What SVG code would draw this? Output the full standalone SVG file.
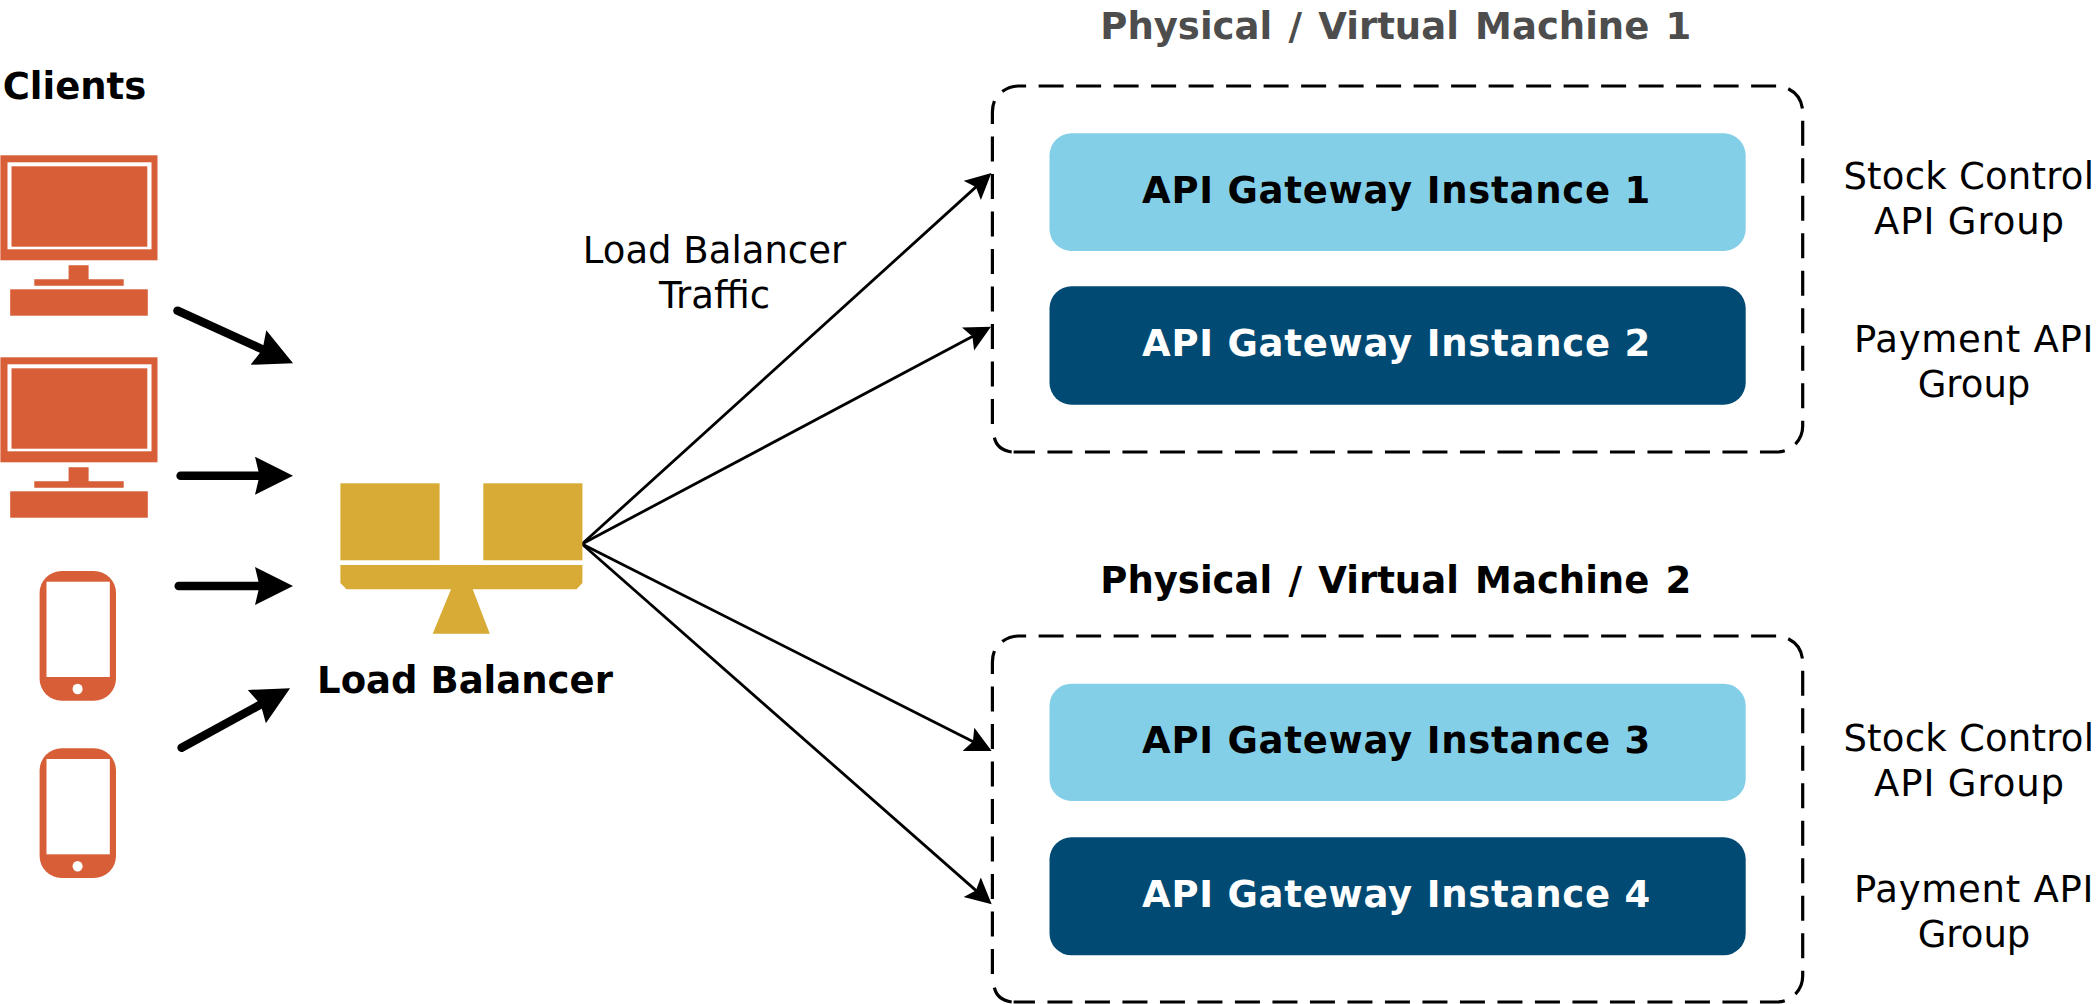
<svg xmlns="http://www.w3.org/2000/svg" width="2098" height="1004" viewBox="0 0 2098 1004">
<style>
text{font-family:"DejaVu Sans",Verdana,sans-serif;font-size:37px;fill:#000;text-anchor:middle}
.b{font-weight:700}
.w{fill:#fff}
.t{word-spacing:3.400px}
.i{letter-spacing:.76px}
.a{letter-spacing:.9px}
.p{letter-spacing:.72px}
.s{letter-spacing:.22px}
.o{fill:#d85e38}
.g{fill:#d7ab36}
.lt{fill:#84cfe8}
.dk{fill:#004a73}
.frame{fill:none;stroke:#000;stroke-width:3.2}
.dash{stroke-dasharray:25 12.5}
.thick{stroke:#000;stroke-width:8.5;stroke-linecap:round;fill:none;marker-end:url(#big)}
.thin{stroke:#000;stroke-width:2.8;fill:none;marker-end:url(#small)}
</style>
<defs>
<marker id="big" markerUnits="userSpaceOnUse" markerWidth="40" markerHeight="40" refX="6" refY="19" orient="auto"><path d="M0,0L38,19L0,38L4.500,19z" fill="#000"/></marker>
<marker id="small" markerUnits="userSpaceOnUse" markerWidth="28" markerHeight="28" refX="6" refY="13" orient="auto"><path d="M0,0L26,13L0,26L5,13z" fill="#000"/></marker>
<g id="monitor">
<rect class="o" x="0.400" y="155.300" width="157.100" height="105"/>
<rect x="7.500" y="162.300" width="144" height="87" fill="#fff"/>
<rect class="o" x="11.500" y="166.300" width="135.800" height="80.400"/>
<path class="o" d="M68.600,265.300H88.600V279.300H123.700V285.700H34.300V279.300H68.600z"/>
<rect class="o" x="10.200" y="289.300" width="137.600" height="26.400"/>
</g>
<g id="phone">
<rect class="o" x="39.600" y="571" width="76.400" height="129.700" rx="22" ry="22"/>
<rect x="46.500" y="581.700" width="63.300" height="95.300" fill="#fff"/>
<ellipse cx="77.600" cy="689" rx="5" ry="5.200" fill="#fff"/>
</g>
<g id="box">
<path class="frame dash" d="M1002.300,91.600A26,26 0 0 1 1018.400,86H1776.700A26,26 0 0 1 1802.700,112V426A26,26 0 0 1 1776.700,452H1013.600"/>
<path class="frame" d="M1011.700,452Q997,450 994.400,437.700"/>
<path class="frame dash" d="M992.400,424V112Q992.400,106 994.400,101"/>
</g>
</defs>
<g id="connectors">
<path class="thick" d="M177.500,310.700L263.900,350"/>
<path class="thick" d="M180.600,475.700H261"/>
<path class="thick" d="M178.700,586H261"/>
<path class="thick" d="M181.600,747.700L262,703.700"/>
<path class="thin" d="M582,544L976.600,186.400"/>
<path class="thin" d="M582,544L973.300,336.100"/>
<path class="thin" d="M582,544L973.800,742"/>
<path class="thin" d="M582,544L976.700,891.100"/>
</g>
<g id="clients-label"><text class="b" x="74.500" y="99.300">Clients</text></g>
<g id="client-1"><use href="#monitor"/></g>
<g id="client-2"><use href="#monitor" y="202"/></g>
<g id="client-3"><use href="#phone"/></g>
<g id="client-4"><use href="#phone" y="177.300"/></g>
<g id="load-balancer">
<rect class="g" x="340.400" y="483.300" width="99.200" height="77"/>
<rect class="g" x="483.300" y="483.300" width="99.100" height="77"/>
<path class="g" d="M340.400,565H582.400V583L576.500,589.300H472.700L489.800,633.700H432.700L451,589.300H346.500L340.400,583z"/>
<text class="b" x="465" y="693.300">Load Balancer</text>
</g>
<g id="traffic-label">
<text x="714.500" y="263.300">Load Balancer</text>
<text x="714.500" y="308.300">Traffic</text>
</g>
<g id="machine-1">
<text class="b t" x="1395.800" y="39.300" style="fill:#4d4d4d">Physical / Virtual Machine 1</text>
<use href="#box"/>
</g>
<g id="instance-1">
<rect class="lt" x="1049.500" y="133.300" width="696.200" height="117.700" rx="22" ry="22"/>
<text class="b i" x="1396.500" y="202.700">API Gateway Instance 1</text>
</g>
<g id="instance-2">
<rect class="dk" x="1049.500" y="286.300" width="696.200" height="118.400" rx="22" ry="22"/>
<text class="b i w" x="1396.500" y="356">API Gateway Instance 2</text>
</g>
<g id="group-1">
<text class="s" x="1968.800" y="189.300">Stock Control</text>
<text class="a" x="1969.500" y="234">API Group</text>
</g>
<g id="group-2">
<text class="p" x="1974" y="351.700">Payment API</text>
<text x="1974" y="396.700">Group</text>
</g>
<g id="machine-2">
<text class="b t" x="1395.800" y="593.300">Physical / Virtual Machine 2</text>
<use href="#box" y="550"/>
</g>
<g id="instance-3">
<rect class="lt" x="1049.500" y="683.700" width="696.200" height="117.300" rx="22" ry="22"/>
<text class="b i" x="1396.500" y="752.700">API Gateway Instance 3</text>
</g>
<g id="instance-4">
<rect class="dk" x="1049.500" y="837.300" width="696.200" height="118" rx="22" ry="22"/>
<text class="b i w" x="1396.500" y="906.700">API Gateway Instance 4</text>
</g>
<g id="group-3">
<text class="s" x="1968.800" y="751">Stock Control</text>
<text class="a" x="1969.500" y="795.700">API Group</text>
</g>
<g id="group-4">
<text class="p" x="1974" y="901.700">Payment API</text>
<text x="1974" y="946.700">Group</text>
</g>
</svg>
